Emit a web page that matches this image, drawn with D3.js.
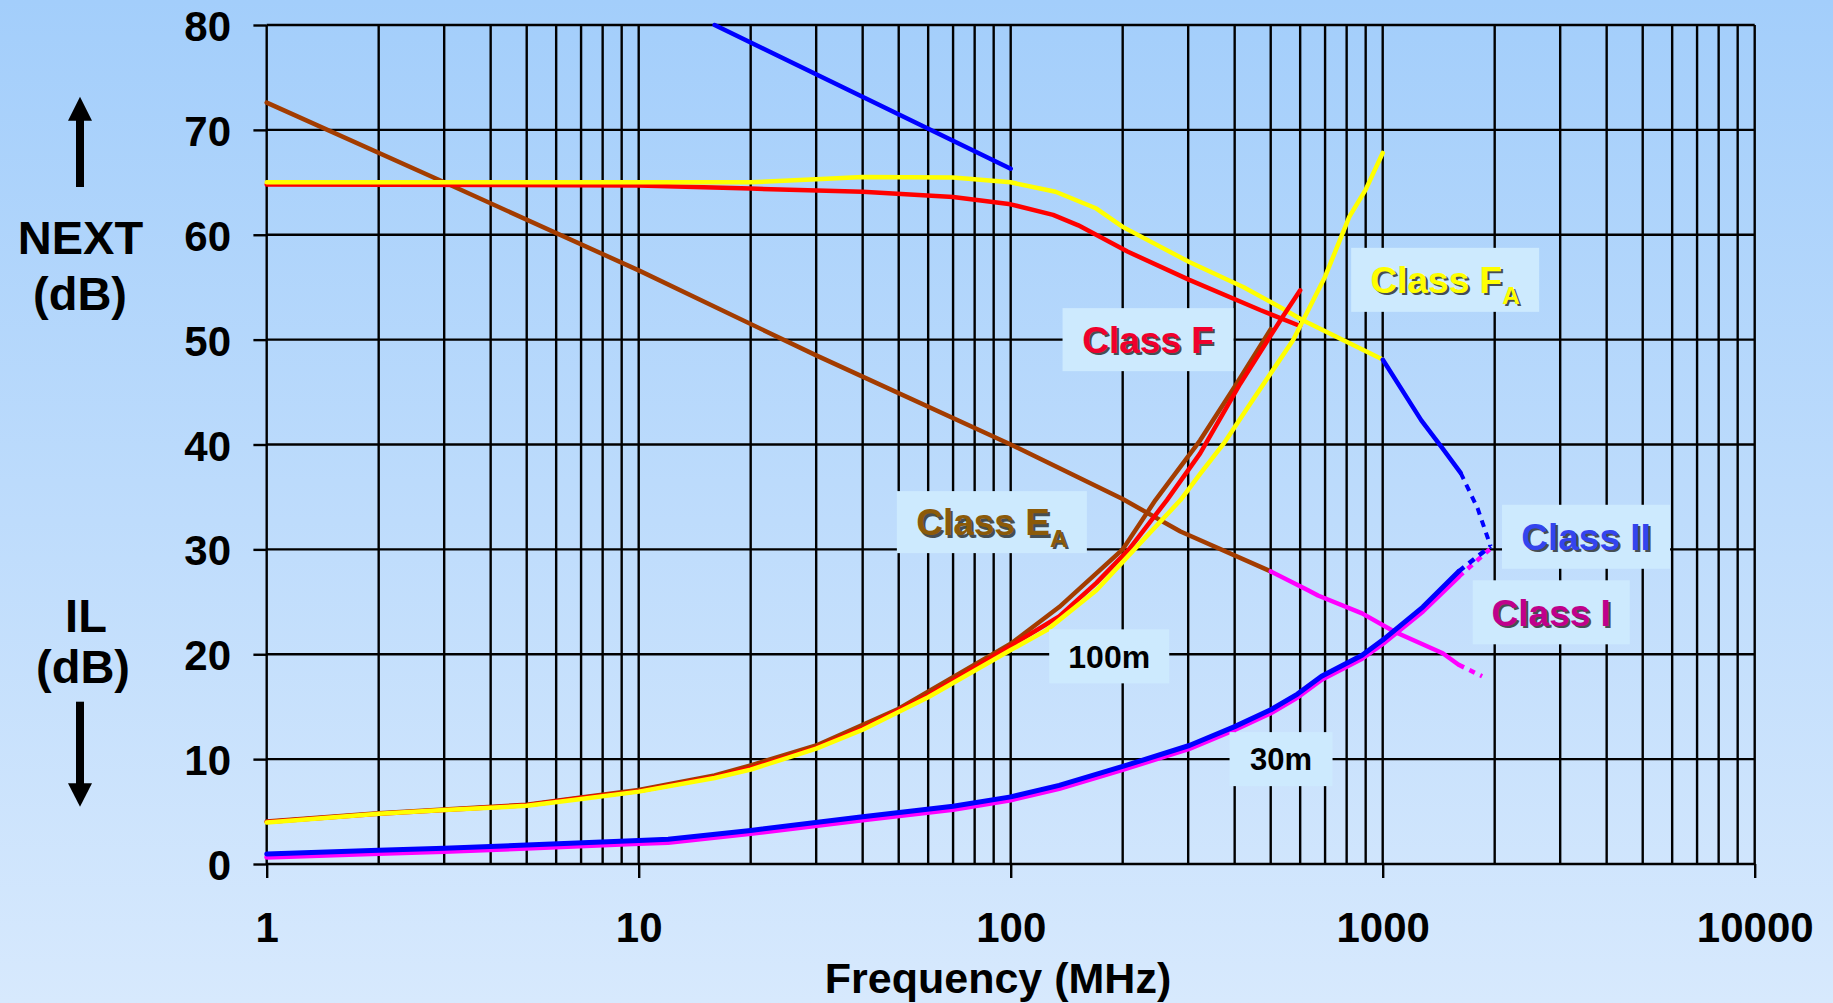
<!DOCTYPE html>
<html>
<head>
<meta charset="utf-8">
<script src="https://cdn.jsdelivr.net/npm/d3@7"></script>
<style>
  html, body { margin: 0; padding: 0; }
  body { width: 1833px; height: 1003px; overflow: hidden; }
  svg text { font-family: "Liberation Sans", Arial, Helvetica, sans-serif; font-weight: bold; }
</style>
</head>
<body>
<svg id="chart" width="1833" height="1003"></svg>
<script>
// Frequency axis (MHz, log) and dB axis ticks
const freqTicks = [1, 10, 100, 1000, 10000];
const dbTicks = [0, 10, 20, 30, 40, 50, 60, 70, 80];

// NEXT limits [MHz, dB]
const nextClassEA = [[1,72.6],[3,65.0],[10,56.6],[30,48.5],[100,40.0],[200,34.8],[286,31.7],[500,27.9]];
const nextClassI = [[500,27.9],[630,26.1],[670,25.6],[880,23.9],[1076,22.15],[1450,20.1],[1600,19.0]];
const nextClassIExt = [[1600,19.0],[1850,17.9]];
const nextClassF = [[1,64.8],[10,64.7],[20,64.4],[40,64.1],[70,63.6],[100,62.9],[130,61.9],[152,60.9],[206,58.4],[302,55.7],[470,52.8],[600,51.3]];
const nextClassFA = [[1,65.0],[20,65.0],[30,65.3],[40,65.5],[70,65.45],[100,65.0],[132,64.1],[170,62.5],[200,60.75],[302,57.4],[423,55.0],[542,52.9],[606,51.9],[1000,48.1]];
const nextClassIILow = [[16,80.0],[100,66.3]];
const nextClassIIHigh = [[1000,48.1],[1270,42.3],[1450,39.6],[1620,37.3]];
const nextClassIIExt = [[1620,37.3],[1800,33.9],[1950,30.3]];

// Insertion loss limits [MHz, dB], 100 m channel
const ilClassEA = [[1,4.05],[2,4.85],[3,5.2],[5,5.65],[7,6.35],[10,7.05],[16,8.45],[20,9.4],[30,11.3],[50,14.8],[100,21.0],[135,24.5],[200,30.0],[245,34.7],[323,40.4],[400,45.5],[500,51.0]];
const ilClassF = [[1,4.0],[2,4.8],[3,5.15],[5,5.6],[7,6.3],[10,6.95],[16,8.3],[20,9.15],[30,11.1],[40,12.95],[60,16.1],[100,20.8],[135,23.6],[170,26.8],[208,30.0],[263,34.7],[323,39.15],[414,45.8],[532,51.9],[600,54.7]];
const ilClassFA = [[1,3.95],[2,4.8],[3,5.15],[5,5.55],[7,6.2],[10,6.9],[16,8.2],[20,9.0],[30,11.0],[40,12.8],[60,15.9],[100,20.4],[125,22.3],[170,26.1],[215,30.0],[286,34.7],[323,37.2],[374,40.1],[435,43.6],[574,49.95],[700,56.0],[813,61.7],[900,64.3],[1000,67.8]];

// Insertion loss limits, 30 m channel
const ilClassII = [[1,0.95],[2,1.3],[3,1.5],[5,1.8],[10,2.25],[12,2.35],[20,3.2],[40,4.5],[70,5.5],[100,6.4],[135,7.5],[200,9.3],[302,11.3],[400,13.1],[500,14.7],[590,16.2],[685,17.9],[880,19.9],[1000,21.35],[1282,24.5],[1600,27.9]];
const ilClassIIExt = [[1600,27.9],[1950,30.3]];
const ilClassI = [[1,0.65],[2,1.0],[3,1.2],[5,1.5],[10,1.95],[12,2.05],[20,2.9],[40,4.2],[70,5.2],[100,6.1],[135,7.2],[200,9.0],[302,11.0],[400,12.8],[500,14.4],[590,15.9],[685,17.6],[880,19.6],[1000,21.0],[1282,24.1],[1600,27.4]];
const ilClassIExt = [[1600,27.4],[1940,30.0]];

// Curve labels, anchored at [MHz, dB]
const labelNames = ["Class F", "Class F", "Class E", "Class II", "Class I", "100m", "30m"];
const labelSubs = ["", "A", "A", "", "", "", ""];
const labelAnchors = [[234,50.0],[1472,55.7],[89,32.6],[3520,31.2],[2838,24.0],[184,19.8],[533,10.0]];

const svg = d3.select("#chart");
const W = 1833, H = 1003;

// background gradient
const defs = svg.append("defs");
const grad = defs.append("linearGradient").attr("id", "bg").attr("x1", 0).attr("y1", 0).attr("x2", 0).attr("y2", 1);
grad.append("stop").attr("offset", "0%").attr("stop-color", "#a3cefb");
grad.append("stop").attr("offset", "100%").attr("stop-color", "#d7e9fd");
svg.append("rect").attr("width", W).attr("height", H).attr("fill", "url(#bg)");

const x = d3.scaleLog().domain([1, 10000]).range([266.7, 1754.7]);
const y = d3.scaleLinear().domain([0, 80]).range([864, 25]);

// grid
const grid = svg.append("g").attr("stroke", "#000").attr("stroke-width", 2.4);
grid.selectAll("line.v").data(x.ticks()).join("line")
  .attr("x1", d => x(d)).attr("x2", d => x(d))
  .attr("y1", y(80)).attr("y2", y(0));
grid.selectAll("line.h").data(dbTicks).join("line")
  .attr("x1", x(1)).attr("x2", x(10000))
  .attr("y1", d => y(d)).attr("y2", d => y(d));

// axes
const yAxis = svg.append("g").attr("transform", `translate(${x(1)},0)`)
  .call(d3.axisLeft(y).tickValues(dbTicks).tickSize(13.3).tickPadding(22.4).tickFormat(d3.format("d")));
const xAxis = svg.append("g").attr("transform", `translate(0,${y(0)})`)
  .call(d3.axisBottom(x).tickValues(freqTicks).tickSize(14).tickPadding(33.7).tickFormat(d3.format("d")));
[yAxis, xAxis].forEach(g => {
  g.select(".domain").remove();
  g.selectAll(".tick line").attr("stroke", "#000").attr("stroke-width", 2.4);
  g.selectAll(".tick text").attr("fill", "#000").attr("font-size", 42)
    .attr("font-family", "'Liberation Sans', Arial, sans-serif").attr("font-weight", "bold");
});
yAxis.selectAll(".tick text").attr("dy", "0.37em");

// curves
const line = d3.line().x(d => x(d[0])).y(d => y(d[1]));
const plot = svg.append("g").attr("fill", "none").attr("stroke-linejoin", "round").attr("stroke-linecap", "round");
function draw(data, color, width, dash) {
  const p = plot.append("path").datum(data).attr("d", line)
    .attr("stroke", color).attr("stroke-width", width);
  if (dash) p.attr("stroke-dasharray", dash).attr("stroke-linecap", "butt");
}
const BROWN = "#a33c00", RED = "#ff0000", YELLOW = "#ffff00", BLUE = "#0000ff", MAGENTA = "#ff00ff";

// NEXT
draw(nextClassEA, BROWN, 4.5);
draw(nextClassI, MAGENTA, 4.5);
draw(nextClassIExt, MAGENTA, 4.5, "6 6");
draw(nextClassF, RED, 4.5);
draw(nextClassFA, YELLOW, 4.5);
draw(nextClassIILow, BLUE, 4.5);
draw(nextClassIIHigh, BLUE, 4.5);
draw(nextClassIIExt, BLUE, 4, "7 6");

// insertion loss
draw(ilClassEA, BROWN, 4.5);
draw(ilClassF, RED, 4.5);
draw(ilClassFA, YELLOW, 4.5);
draw(ilClassI, MAGENTA, 5);
draw(ilClassIExt, MAGENTA, 4.5, "6 6");
draw(ilClassII, BLUE, 5);
draw(ilClassIIExt, BLUE, 4.5, "7 6");

// curve labels in light boxes
const labelColors = ["#f0002c", "#ffff00", "#8c5a08", "#3344ee", "#c0008c", "#000", "#000"];
const labelSizes = [37, 37, 37, 37, 37, 32, 31];
const boxSizes = [[171, 63], [188, 64], [190, 62], [168, 64], [157, 64], [120, 54], [103, 54]];
const labels = svg.append("g");
labelNames.forEach((name, i) => {
  const cx = x(labelAnchors[i][0]), cy = y(labelAnchors[i][1]);
  const [bw, bh] = boxSizes[i];
  const g = labels.append("g").attr("transform", `translate(${cx},${cy})`);
  g.append("rect").attr("x", -bw / 2).attr("y", -bh / 2).attr("width", bw).attr("height", bh).attr("fill", "#cdeafe");
  const fs = labelSizes[i];
  const shadow = i < 5;
  const base = fs * 0.36;
  const addText = (fill, dx, dy, op) => {
    const t = g.append("text").attr("text-anchor", "middle").attr("x", dx).attr("y", base + dy)
      .attr("font-size", fs).attr("fill", fill).attr("fill-opacity", op);
    t.append("tspan").text(name);
    if (labelSubs[i]) t.append("tspan").attr("font-size", fs * 0.66).attr("dy", fs * 0.3).text(labelSubs[i]);
  };
  if (shadow) addText("#1a1a1a", 2.2, 2.2, 0.75);
  addText(labelColors[i], 0, 0, 1);
});

// axis titles
const titles = svg.append("g").attr("fill", "#000").attr("text-anchor", "middle");
titles.append("text").attr("x", 998).attr("y", 993).attr("font-size", 43).text("Frequency (MHz)");
titles.append("text").attr("x", 80.5).attr("y", 254).attr("font-size", 47).text("NEXT");
titles.append("text").attr("x", 80).attr("y", 310).attr("font-size", 47).text("(dB)");
titles.append("text").attr("x", 86).attr("y", 632).attr("font-size", 47).text("IL");
titles.append("text").attr("x", 83).attr("y", 683).attr("font-size", 47).text("(dB)");

// direction arrows
const arrows = svg.append("g").attr("fill", "#000");
arrows.append("rect").attr("x", 76).attr("y", 119).attr("width", 8).attr("height", 68);
arrows.append("path").attr("d", "M80,96.7 L92,120.7 L68,120.7 Z");
arrows.append("rect").attr("x", 76).attr("y", 701.7).attr("width", 8).attr("height", 83);
arrows.append("path").attr("d", "M80,806.7 L92,783.3 L68,783.3 Z");
</script>
</body>
</html>
